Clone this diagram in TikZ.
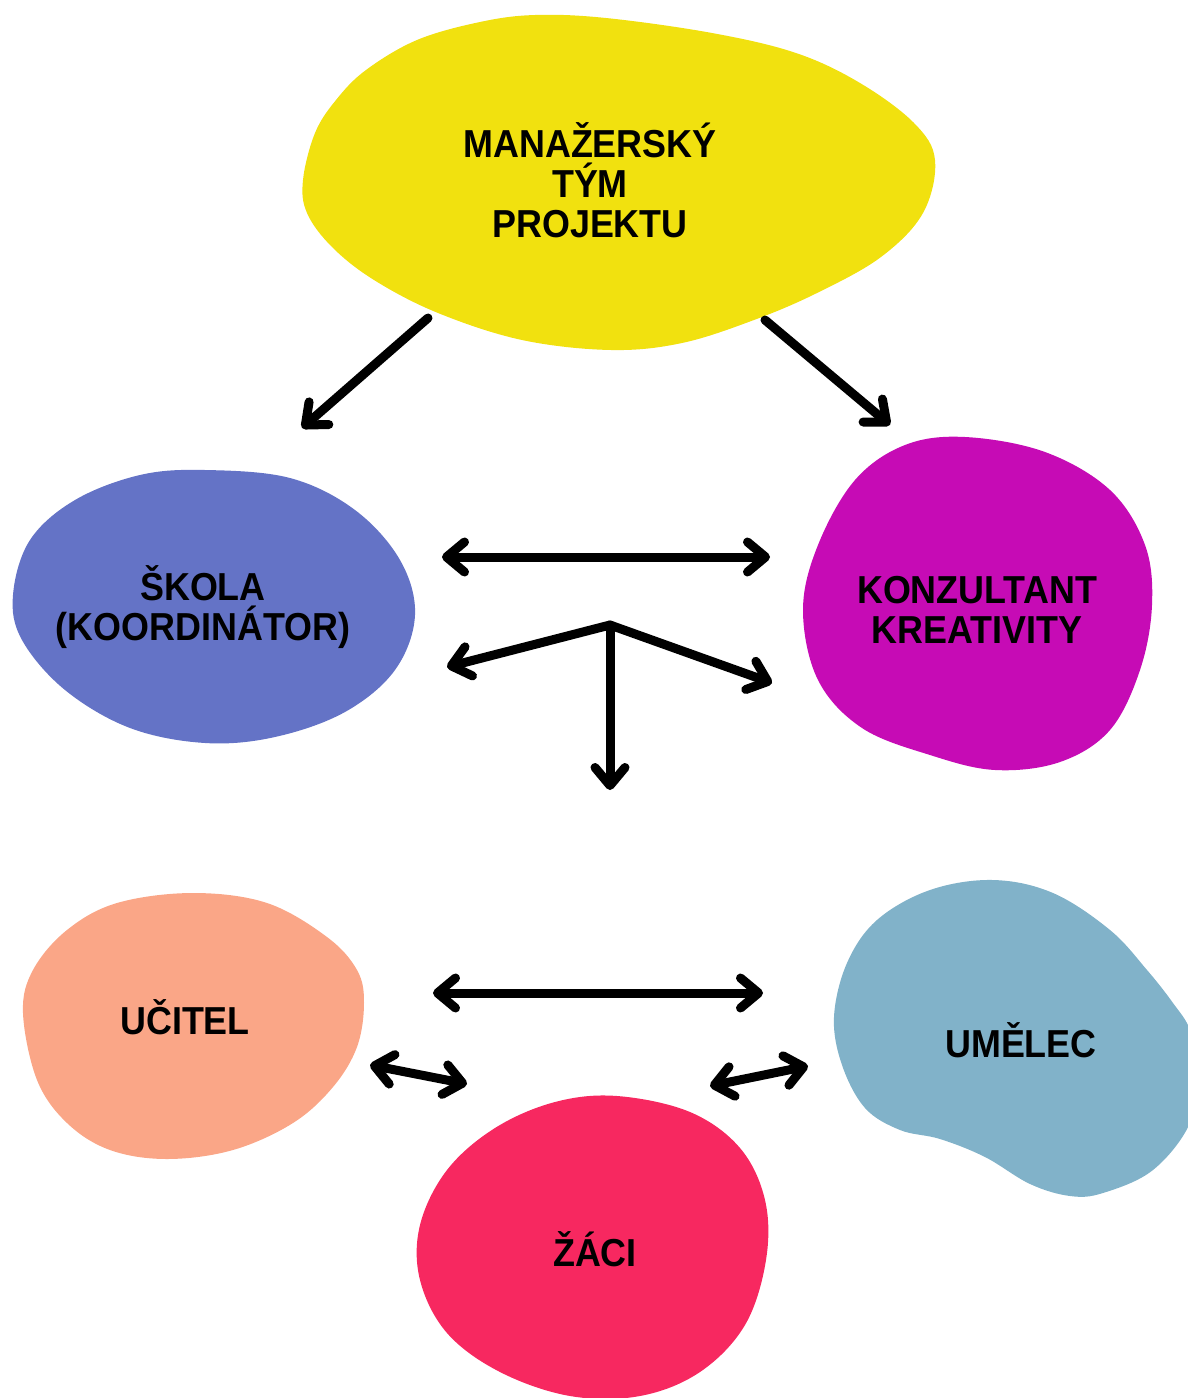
\documentclass[tikz,border=0pt]{standalone}
\usepackage{fontspec}
\setmainfont{Liberation Sans}[FakeStretch=0.92]
\usetikzlibrary{arrows.meta}
\definecolor{cyellow}{RGB}{241,225,15}
\definecolor{cblue}{RGB}{100,115,198}
\definecolor{cmagenta}{RGB}{198,11,181}
\definecolor{csalmon}{RGB}{250,166,135}
\definecolor{cgrey}{RGB}{129,178,201}
\definecolor{cred}{RGB}{247,40,96}
\begin{document}
\begin{tikzpicture}[x=0.5pt,y=-0.5pt,
  lbl/.style={font=\fontsize{19.5}{20}\selectfont\bfseries, align=center, inner sep=0pt},
  tipb/.tip={Straight Barb[length=9pt,width=15pt,round]},
  conn/.style={line width=4.5pt, line cap=round, line join=round, -tipb},
  biconn/.style={line width=4.5pt, line cap=round, line join=round, tipb-tipb},
  blob/.style={smooth cycle, tension=0.6}]
\useasboundingbox (0,0) rectangle (1188,1398);
\begin{scope}
\clip (0,0) rectangle (1188,1398);
% yellow
\fill[cyellow] plot[blob] coordinates {(303,180) (315,133) (336,100) (366,70) (417,40) (480,22) (535,15) (606,18) (712,33) (796,53) (860,83) (914,123) (935,160) (923,213) (881,257) (817,293) (754,320) (682,343) (611,350) (522,340) (438,313) (374,280) (332,247) (307,213)};
% blue
\fill[cblue] plot[blob] coordinates {(205,470) (290,478) (355,510) (400,560) (415,615) (395,670) (345,712) (275,737) (205,743) (130,728) (65,690) (22,640) (13,595) (30,540) (75,500) (140,475)};
% magenta
\fill[cmagenta] plot[blob] coordinates {(965,437) (1045,452) (1110,490) (1145,545) (1152,605) (1140,670) (1110,730) (1060,762) (995,770) (930,755) (862,728) (818,680) (803,610) (818,545) (855,480) (905,445)};
% salmon
\fill[csalmon] plot[blob] coordinates {(193,893) (267,903) (327,937) (357,970) (364,1003) (357,1047) (333,1087) (293,1123) (233,1150) (167,1159) (110,1150) (67,1123) (37,1080) (23,1013) (33,970) (67,930) (117,903)};
% grey-blue
\fill[cgrey] plot[blob] coordinates {(993,880) (1053,893) (1110,930) (1147,970) (1173,1003) (1190,1030) (1197,1070) (1190,1123) (1153,1170) (1103,1193) (1070,1196) (1030,1184) (985,1157) (940,1139) (900,1130) (865,1108) (842,1065) (834,1017) (847,963) (877,920) (930,890)};
% red
\fill[cred] plot[blob] coordinates {(617,1096) (690,1112) (740,1148) (765,1200) (766,1260) (745,1325) (700,1372) (640,1396) (570,1396) (500,1372) (447,1333) (420,1280) (420,1225) (447,1170) (495,1128) (555,1102)};
\end{scope}

% labels
\node[lbl] (mgmt) at (590,180) {MANAŽERSKÝ\\TÝM\\PROJEKTU};
\node[lbl] (skola) at (203,607) {ŠKOLA\\(KOORDINÁTOR)};
\node[lbl] (konz) at (977,610) {KONZULTANT\\KREATIVITY};
\node[lbl] (ucitel) at (185,1017) {UČITEL};
\node[lbl] (umelec) at (1021,1040) {UMĚLEC};
\node[lbl] (zaci) at (595,1249) {ŽÁCI};

% connector end points
\coordinate (m1) at (428,318);
\coordinate (s1) at (302,428);
\coordinate (m2) at (765,320);
\coordinate (k1) at (890,425);
\coordinate (s2) at (442,557);
\coordinate (k2) at (770,557);
\coordinate (j) at (610,625);
\coordinate (s3) at (447,667);
\coordinate (k3) at (772,683);
\coordinate (d) at (610,790);
\coordinate (u1) at (433,993);
\coordinate (a1) at (763,993);
\coordinate (u2) at (370,1065);
\coordinate (z1) at (467,1084);
\coordinate (z2) at (710,1086);
\coordinate (a2) at (808,1066);

\draw[conn] (m1) -- (s1);
\draw[conn] (m2) -- (k1);
\draw[biconn] (s2) -- (k2);
\draw[conn] (j) -- (s3);
\draw[conn] (j) -- (k3);
\draw[conn] (j) -- (d);
\draw[biconn] (u1) -- (a1);
\draw[biconn] (u2) -- (z1);
\draw[biconn] (z2) -- (a2);
\end{tikzpicture}
\end{document}
